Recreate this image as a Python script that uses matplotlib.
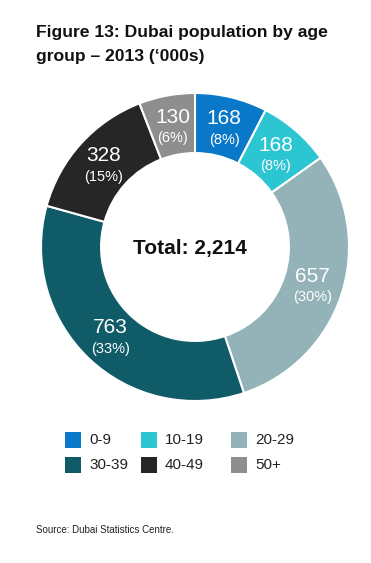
import matplotlib
matplotlib.use("Agg")
import matplotlib.pyplot as plt
from matplotlib.patches import Rectangle
import numpy as np

plt.rcParams['font.family'] = ['Liberation Sans', 'DejaVu Sans']

categories = ['0-9', '10-19', '20-29', '30-39', '40-49', '50+']
values = [168, 168, 657, 763, 328, 130]
percents = ['8%', '8%', '30%', '33%', '15%', '6%']
colors = ['#0a78c8', '#2cc5d2', '#93b3b9', '#0f5b68', '#262626', '#8e8e8e']
total_label = 'Total: 2,214'
title_lines = ['Figure 13: Dubai population by age', 'group \u2013 2013 (\u2018000s)']

W, H = 371, 563
fig = plt.figure(figsize=(W / 100, H / 100), dpi=100)

# donut axes
cx, cy, R = 195, 247, 154
ax = fig.add_axes([(cx - R) / W, (H - cy - R) / H, 2 * R / W, 2 * R / H])
wedges, _ = ax.pie(values, colors=colors, startangle=90, counterclock=False,
                   radius=1.0, wedgeprops=dict(width=0.39, edgecolor='white', linewidth=1.5))
ax.set_xlim(-1, 1)
ax.set_ylim(-1, 1)
ax.set_aspect('equal')
ax.axis('off')

r_lab = 0.80
for w, v, p in zip(wedges, values, percents):
    ang = np.deg2rad((w.theta1 + w.theta2) / 2)
    x, y = r_lab * np.cos(ang), r_lab * np.sin(ang)
    ax.text(x, y + 0.055, str(v), ha='center', va='center', color='white', fontsize=15)
    ax.text(x, y - 0.08, '(' + p + ')', ha='center', va='center', color='white', fontsize=10.5)

ax.text(-0.03, -0.01, total_label, ha='center', va='center', fontsize=15, fontweight='bold', color='#111111')

# title
for i, line in enumerate(title_lines):
    fig.text(36 / W, 1 - (37 + 24 * i) / H, line,
             ha='left', va='baseline', fontsize=12.6, fontweight='bold', color='#111111')

# legend
col_x = [65, 141, 231]
row_y = [440, 465]
sq = 16
for i, (c, lab) in enumerate(zip(colors, categories)):
    r, k = divmod(i, 3)
    x0, y0 = col_x[k], row_y[r]
    fig.add_artist(Rectangle((x0 / W, (H - y0 - sq / 2) / H), sq / W, sq / H,
                             transform=fig.transFigure, color=c, linewidth=0))
    fig.text((x0 + sq + 8) / W, 1 - y0 / H, lab, ha='left', va='center', fontsize=11, color='#222222')

fig.text(36 / W, 1 - 530 / H, 'Source: Dubai Statistics Centre.', ha='left', va='center',
         fontsize=7, color='#222222')

fig.savefig('out.png', dpi=100, facecolor='white')
